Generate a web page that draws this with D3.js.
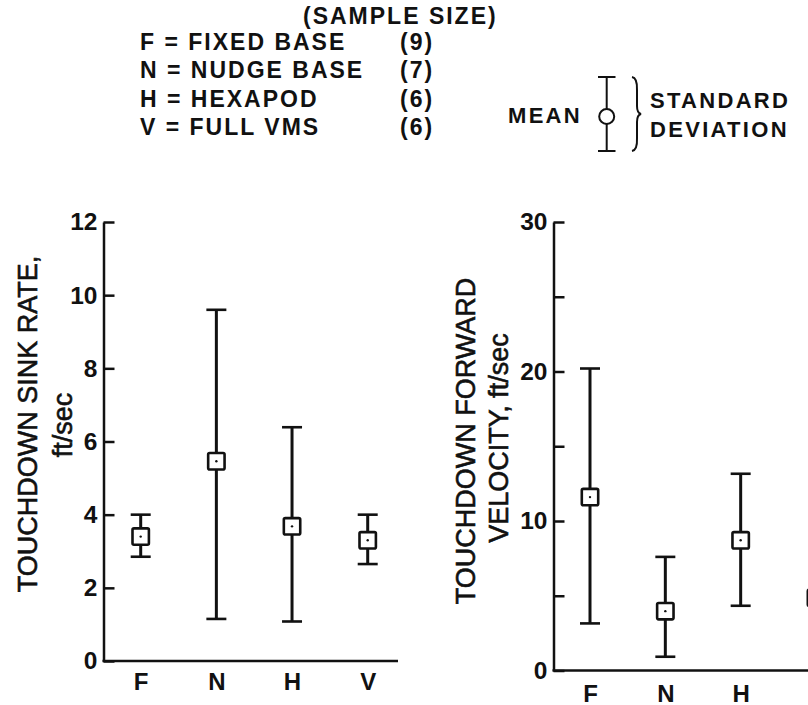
<!DOCTYPE html>
<html>
<head>
<meta charset="utf-8">
<script src="https://cdn.jsdelivr.net/npm/d3@7"></script>
<style>
body{margin:0;background:#fff}
svg{display:block;overflow:hidden}
text{font-family:"Liberation Sans",Arial,sans-serif;fill:#111}
</style>
</head>
<body>
<script>
// groups, shared by both panels
var categories=["F","N","H","V"]
var groupNames=["FIXED BASE","NUDGE BASE","HEXAPOD","FULL VMS"]
var sampleSizes=[9,7,6,6]

// touchdown sink rate, ft/sec (mean, mean+sd, mean-sd)
var sinkMean=[3.4,5.46,3.68,3.3]
var sinkHigh=[4.0,9.6,6.39,4.0]
var sinkLow=[2.85,1.15,1.08,2.65]
var sinkTicks=[0,2,4,6,8,10,12]
var sinkLabels=[0,2,4,6,8,10,12]

// touchdown forward velocity, ft/sec (V is cut off at the page edge, only its mean box shows)
var fwdMean=[11.6,3.97,8.71,4.87]
var fwdHigh=[20.2,7.6,13.16,null]
var fwdLow=[3.15,0.92,4.33,null]
var fwdTicks=[0,5,10,15,20,25,30]
var fwdLabels=[0,10,20,30]

var W=808,H=705
var svg=d3.select("body").append("svg").attr("width",W).attr("height",H)

var drawPanel=function(p){
  var y=d3.scaleLinear().domain([0,p.max]).range([p.bottom,p.top])
  var x=d3.scalePoint().domain(categories).range([p.first,p.last])
  var g=svg.append("g")

  var yAxis=d3.axisLeft(y).tickValues(p.ticks).tickSize(-11).tickSizeOuter(0).tickPadding(6)
      .tickFormat(function(d){return p.labels.indexOf(d)>=0?d:""})
  var ya=g.append("g").attr("transform","translate("+p.axisX+",0)").call(yAxis)
  ya.select(".domain").attr("stroke","#111").attr("stroke-width",2.5)
  ya.selectAll(".tick line").attr("stroke","#111").attr("stroke-width",2.5)
  ya.selectAll(".tick text").attr("font-size",24.5).attr("font-weight","bold")
     .attr("font-family","Liberation Sans").attr("fill","#111")

  // x axis line
  g.append("line").attr("x1",p.axisX-1).attr("x2",p.xEnd)
   .attr("y1",y(0)).attr("y2",y(0)).attr("stroke","#111").attr("stroke-width",2.5)
  var xAxis=d3.axisBottom(x).tickSize(0).tickPadding(p.labelPad)
  var xa=g.append("g").attr("transform","translate(0,"+y(0)+")").call(xAxis)
  xa.select(".domain").remove()
  xa.selectAll(".tick text").attr("font-size",24).attr("font-weight","bold")
     .attr("font-family","Liberation Sans").attr("fill","#111")

  var rows=categories.map(function(c,i){return {c:c,m:p.mean[i],hi:p.high[i],lo:p.low[i]}})
  var bars=rows.filter(function(d){return d.hi!=null})
  g.append("g").selectAll("line").data(bars).enter().append("line")
   .attr("x1",function(d){return x(d.c)}).attr("x2",function(d){return x(d.c)})
   .attr("y1",function(d){return y(d.lo)}).attr("y2",function(d){return y(d.hi)})
   .attr("stroke","#111").attr("stroke-width",3)
  g.append("g").selectAll("line").data(bars).enter().append("line")
   .attr("x1",function(d){return x(d.c)-10}).attr("x2",function(d){return x(d.c)+10})
   .attr("y1",function(d){return y(d.hi)}).attr("y2",function(d){return y(d.hi)})
   .attr("stroke","#111").attr("stroke-width",2.6)
  g.append("g").selectAll("line").data(bars).enter().append("line")
   .attr("x1",function(d){return x(d.c)-10}).attr("x2",function(d){return x(d.c)+10})
   .attr("y1",function(d){return y(d.lo)}).attr("y2",function(d){return y(d.lo)})
   .attr("stroke","#111").attr("stroke-width",2.6)
  g.append("g").selectAll("rect").data(rows).enter().append("rect")
   .attr("x",function(d){return x(d.c)-8.2}).attr("y",function(d){return y(d.m)-8.2})
   .attr("width",16.4).attr("height",16.4).attr("rx",1.5)
   .attr("fill","#fff").attr("stroke","#111").attr("stroke-width",2.6)
  g.append("g").selectAll("circle").data(rows).enter().append("circle")
   .attr("cx",function(d){return x(d.c)}).attr("cy",function(d){return y(d.m)})
   .attr("r",1.2).attr("fill","#111")

  // rotated axis titles
  p.title.forEach(function(t){
    g.append("text").attr("transform","translate("+t.x+","+t.y+") rotate(-90)")
     .attr("text-anchor","middle").attr("font-size",27)
     .attr("stroke","#111").attr("stroke-width",0.6).text(t.text)
  })
}

drawPanel({max:12,top:222,bottom:661,axisX:103.5,xEnd:398,first:140.7,last:367.7,labelPad:12,
  ticks:sinkTicks,labels:sinkLabels,mean:sinkMean,high:sinkHigh,low:sinkLow,
  title:[{text:"TOUCHDOWN SINK RATE,",x:37,y:424},{text:"ft/sec",x:72,y:425}]})
drawPanel({max:30,top:222,bottom:670.5,axisX:553.5,xEnd:830,first:590,last:816,labelPad:14,
  ticks:fwdTicks,labels:fwdLabels,mean:fwdMean,high:fwdHigh,low:fwdLow,
  title:[{text:"TOUCHDOWN FORWARD",x:475,y:441},{text:"VELOCITY, ft/sec",x:508,y:438}]})

// sample size legend
var leg=svg.append("g").attr("font-size",23).attr("font-weight","bold").attr("letter-spacing",2)
leg.append("text").attr("x",303).attr("y",24).text("(SAMPLE SIZE)")
leg.selectAll("text.name").data(categories).enter().append("text").attr("class","name")
   .attr("x",140).attr("y",function(d,i){return 50+i*28.4})
   .text(function(d,i){return d+" = "+groupNames[i]})
leg.selectAll("text.n").data(sampleSizes).enter().append("text").attr("class","n")
   .attr("x",400).attr("y",function(d,i){return 50+i*28.4})
   .text(function(d){return "("+d+")"})

// mean / standard deviation key
var key=svg.append("g")
key.append("text").attr("x",508).attr("y",123).attr("font-size",22).attr("font-weight","bold")
   .attr("letter-spacing",2.3).text("MEAN")
key.append("line").attr("x1",606.7).attr("x2",606.7).attr("y1",77).attr("y2",151)
   .attr("stroke","#111").attr("stroke-width",2)
key.selectAll("line.cap").data([77,151]).enter().append("line").attr("class","cap")
   .attr("x1",598).attr("x2",615.5).attr("y1",function(d){return d}).attr("y2",function(d){return d})
   .attr("stroke","#111").attr("stroke-width",2)
key.append("circle").attr("cx",606.7).attr("cy",116.5).attr("r",7.5)
   .attr("fill","#fff").attr("stroke","#111").attr("stroke-width",2)
key.append("path").attr("d","M632,77 Q637.5,78 637,90 L637,106 Q637,113 641,114 Q637,115 637,122 L637,138 Q637.5,150 632,151")
   .attr("fill","none").attr("stroke","#111").attr("stroke-width",2)
key.selectAll("text.sd").data(["STANDARD","DEVIATION"]).enter().append("text").attr("class","sd")
   .attr("x",650).attr("y",function(d,i){return 108+i*29}).attr("font-size",22).attr("font-weight","bold")
   .attr("letter-spacing",2.3).text(function(d){return d})
</script>
</body>
</html>
